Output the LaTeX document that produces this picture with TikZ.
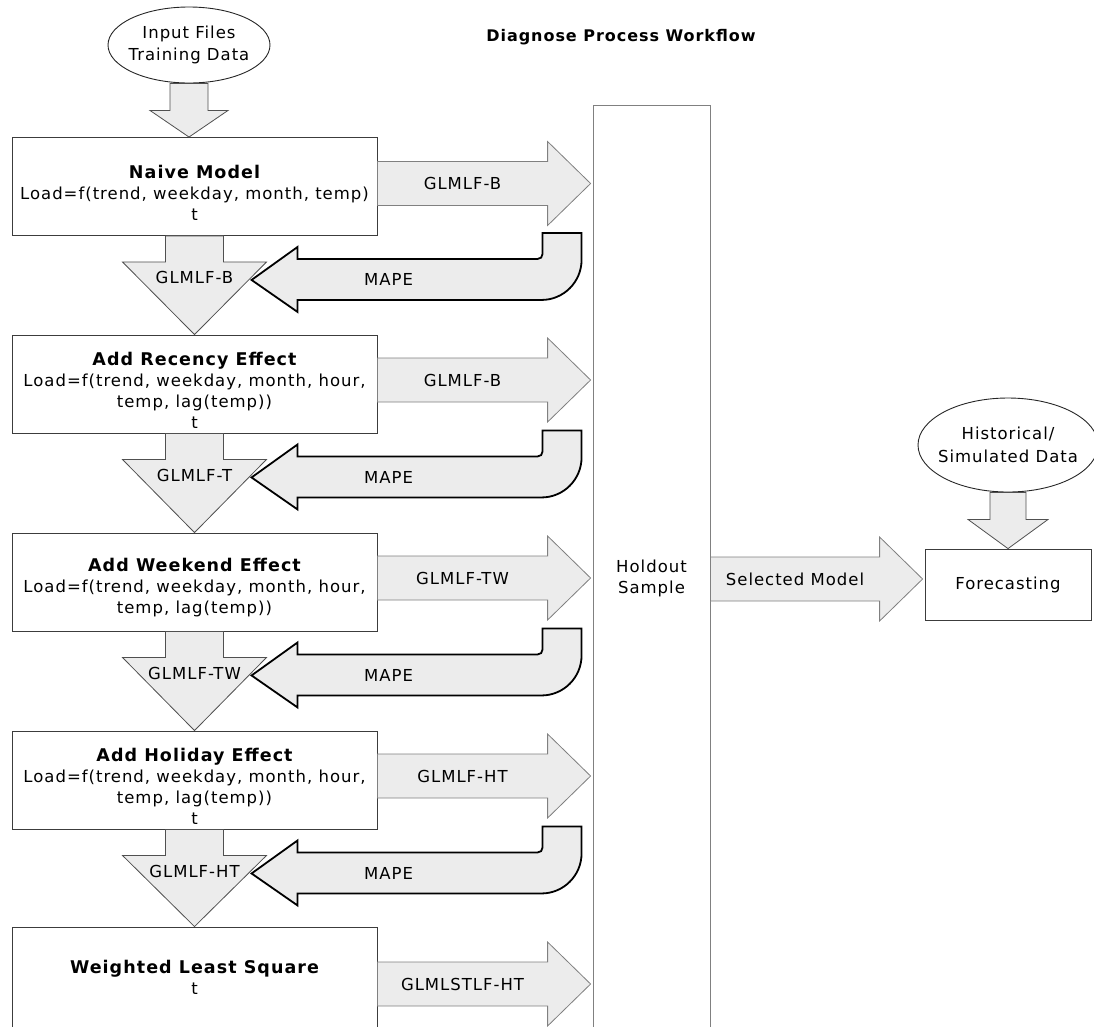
\documentclass[tikz,border=0pt]{standalone}
\usepackage{fontspec}
\setmainfont[LetterSpace=6]{DejaVu Sans}
\usetikzlibrary{calc,shapes.geometric}

\definecolor{arrowfill}{RGB}{236,236,236}
\definecolor{arrowedge}{RGB}{128,128,128}
\definecolor{downedge}{RGB}{80,80,80}
\definecolor{boxedge}{RGB}{60,60,60}

% bold heading inside a step box
\newcommand{\steptitle}[1]{{\fontsize{17.5}{21}\selectfont\bfseries #1}}
% block arrow to the right: from node, to node, y shift, label
\newcommand{\blockright}[4]{%
    \coordinate (s) at ($(#1.east)+(0,#3)$);
    \coordinate (t) at (#2.west|-s);
    \draw[rightarrow] ($(s)+(0,-22)$) -- ($(t)+(-45,-22)$) -- ($(t)+(-45,-42)$)
        -- ($(t)+(-2,0)$) -- ($(t)+(-45,42)$) -- ($(t)+(-45,22)$) -- ($(s)+(0,22)$) -- cycle;
    \path (s) -- ($(t)+(-45,0)$) node[midway,arrowlabel] (#1-rlbl) {#4};
}
% block arrow down: from node, to node, shaft half, head half, shaft length, label
\newcommand{\blockdown}[6]{%
    \coordinate (s) at (#1.south);
    \coordinate (t) at (#1.south|-#2.north);
    \draw[downarrow] ($(s)+(-#3,0)$) -- ($(s)+(-#3,#5)$) -- ($(s)+(-#4,#5)$)
        -- (t) -- ($(s)+(#4,#5)$) -- ($(s)+(#3,#5)$) -- ($(s)+(#3,0)$) -- cycle;
    \node[arrowlabel] (#1-dlbl) at ($(s)+(0,#5+16)$) {#6};
}
% bent arrow back from the holdout sample, under a box
\newcommand{\mapeback}[2]{%
    \begin{scope}[shift={(#1.south west)}]
        \draw[backarrow] (531,-3) -- (570,-3) -- (570,24)
            .. controls (570,46) and (552,64) .. (530,64)
            -- (286,64) -- (286,76) -- (240,44) -- (286,11) -- (286,23) -- (526,23)
            .. controls (529,23) and (531,21) .. (531,18) -- cycle;
        \node[arrowlabel] (#1-mape) at (377,44) {#2};
    \end{scope}
}

\begin{document}
\begin{tikzpicture}
    [x=1pt,y=-1pt,
    every node/.style={font=\fontsize{16.5}{21}\selectfont},
    stepbox/.style={draw=boxedge,line width=0.9pt,fill=white,minimum width=365pt,
        minimum height=98pt,inner sep=0pt},
    boxtext/.style={align=center,yshift=-6pt},
    databox/.style={draw=black!85,line width=0.9pt,ellipse,inner sep=0pt},
    arrowlabel/.style={inner sep=1pt},
    rightarrow/.style={draw=arrowedge,fill=arrowfill,line width=0.8pt},
    downarrow/.style={draw=downedge,fill=arrowfill,line width=0.8pt},
    backarrow/.style={draw=black,fill=arrowfill,line width=1.8pt,line join=miter}]
    \useasboundingbox (0,0) rectangle (1094,1026);
    \clip (0,0) rectangle (1094,1026);
    %title
    \node[font=\fontsize{16}{21}\selectfont\bfseries] (title) at (621,37) {Diagnose Process Workflow};
    %input data
    \node[databox,minimum width=162pt,minimum height=76pt] (input) at (189,45) {};
    \node[align=center,font=\fontsize{16.5}{22}\selectfont] (input-txt) at (input) {Input Files\\Training Data};
    %model steps
    \node[stepbox,label={[boxtext]center:{\steptitle{Naive Model}\\Load=f(trend, weekday, month, temp)\\t}}]
        (naive) at (194.5,186.5) {};
    \node[stepbox,label={[boxtext]center:{\steptitle{Add Recency Effect}\\Load=f(trend, weekday, month, hour,\\temp, lag(temp))\\t}}]
        (recency) at (194.5,384) {};
    \node[stepbox,label={[boxtext]center:{\steptitle{Add Weekend Effect}\\Load=f(trend, weekday, month, hour,\\temp, lag(temp))}}]
        (weekend) at (194.5,582) {};
    \node[stepbox,label={[boxtext]center:{\steptitle{Add Holiday Effect}\\Load=f(trend, weekday, month, hour,\\temp, lag(temp))\\t}}]
        (holiday) at (194.5,780) {};
    \node[stepbox,minimum height=100pt,label={[align=center]center:{\steptitle{Weighted Least Square}\\t}}]
        (wls) at (194.5,977) {};
    %holdout and forecast
    \node[draw=arrowedge,line width=0.8pt,minimum width=117pt,minimum height=946pt,
        align=center] (holdout) at (651.5,578) {Holdout\\Sample};
    \node[draw=boxedge,line width=0.8pt,minimum width=166pt,minimum height=71pt]
        (forecast) at (1008,584.5) {Forecasting};
    \node[databox,minimum width=180pt,minimum height=94pt] (hist) at (1008,445) {};
    \node[align=center,font=\fontsize{16.5}{23}\selectfont] (hist-txt) at (hist) {Historical/\\Simulated Data};
    %down arrows
    \blockdown{input}{naive}{19}{39}{27}{}
    \blockdown{naive}{recency}{29}{72}{26}{GLMLF-B}
    \blockdown{recency}{weekend}{29}{72}{26}{GLMLF-T}
    \blockdown{weekend}{holiday}{29}{72}{26}{GLMLF-TW}
    \blockdown{holiday}{wls}{29}{72}{26}{GLMLF-HT}
    \blockdown{hist}{forecast}{18}{40}{27}{}
    %arrows to the holdout sample
    \blockright{naive}{holdout}{-3}{GLMLF-B}
    \blockright{recency}{holdout}{-4}{GLMLF-B}
    \blockright{weekend}{holdout}{-4}{GLMLF-TW}
    \blockright{holiday}{holdout}{-4}{GLMLF-HT}
    \blockright{wls}{holdout}{7}{GLMLSTLF-HT}
    \blockright{holdout}{forecast}{1}{Selected Model}
    %MAPE back
    \mapeback{naive}{MAPE}
    \mapeback{recency}{MAPE}
    \mapeback{weekend}{MAPE}
    \mapeback{holiday}{MAPE}
\end{tikzpicture}
\end{document}
